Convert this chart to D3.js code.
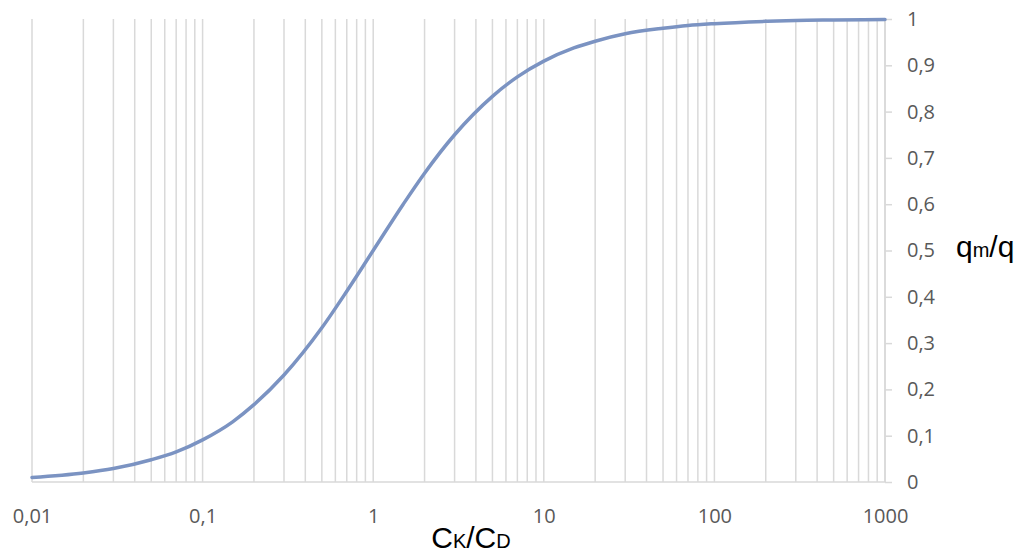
<!DOCTYPE html>
<html>
<head>
<meta charset="utf-8">
<script src="https://cdn.jsdelivr.net/npm/d3@7"></script>
<style>
  html, body { margin: 0; padding: 0; background: #fff; }
  svg { display: block; }
</style>
</head>
<body>
<svg id="chart" width="1024" height="554"></svg>
<script>
// Data
const xValues = [0.01, 0.02, 0.03, 0.05, 0.07, 0.1, 0.15, 0.2, 0.3, 0.5, 0.7, 1, 1.5, 2, 3, 5, 7, 10, 15, 20, 30, 50, 70, 100, 200, 300, 500, 1000];
const yValues = [0.0099, 0.0196, 0.029, 0.048, 0.065, 0.091, 0.13, 0.167, 0.231, 0.333, 0.412, 0.5, 0.6, 0.667, 0.75, 0.833, 0.875, 0.909, 0.9375, 0.952, 0.968, 0.980, 0.986, 0.990, 0.995, 0.997, 0.998, 0.999];
const xTickValues = [0.01, 0.1, 1, 10, 100, 1000];
const xTickLabels = ["0,01", "0,1", "1", "10", "100", "1000"];
const yTickValues = [0, 0.1, 0.2, 0.3, 0.4, 0.5, 0.6, 0.7, 0.8, 0.9, 1];
const yTickLabels = ["0", "0,1", "0,2", "0,3", "0,4", "0,5", "0,6", "0,7", "0,8", "0,9", "1"];

(function () {
const svg = d3.select("#chart");
const mLeft = 32, mRight = 885, mTop = 19, mBottom = 482;

const x = d3.scaleLog().domain([0.01, 1000]).range([mLeft, mRight]);
const y = d3.scaleLinear().domain([0, 1]).range([mBottom, mTop]);

const grid = "#d9d9d9";
const tickFont = "'Open Sans', 'Noto Sans', sans-serif";

// vertical grid lines at every log tick
const gridTicks = x.ticks();

svg.append("g")
  .selectAll("line")
  .data(gridTicks)
  .join("line")
  .attr("x1", d => x(d)).attr("x2", d => x(d))
  .attr("y1", mTop).attr("y2", mBottom)
  .attr("stroke", grid).attr("stroke-width", 1.5);

// bottom axis line
svg.append("line")
  .attr("x1", mLeft).attr("x2", mRight + 0.75)
  .attr("y1", mBottom).attr("y2", mBottom)
  .attr("stroke", grid).attr("stroke-width", 1.5);

// right axis
const yAxis = d3.axisRight(y)
  .tickValues(yTickValues)
  .tickFormat((d, i) => yTickLabels[i])
  .tickSize(7)
  .tickPadding(15);
const gy = svg.append("g").attr("transform", `translate(${mRight},0)`).call(yAxis);
gy.select(".domain").remove();
gy.append("line").attr("x1", 0).attr("x2", 0).attr("y1", mTop).attr("y2", mBottom)
  .attr("stroke", grid).attr("stroke-width", 1.5);
gy.selectAll(".tick line").attr("stroke", grid).attr("stroke-width", 1.5);
gy.selectAll(".tick text")
  .attr("fill", "#595959")
  .style("font-family", tickFont)
  .style("font-size", "20px");

// bottom tick labels
const xAxis = d3.axisBottom(x)
  .tickValues(xTickValues)
  .tickFormat((d, i) => xTickLabels[i])
  .tickSize(0)
  .tickPadding(27);
const gx = svg.append("g").attr("transform", `translate(0,${mBottom})`).call(xAxis);
gx.select(".domain").remove();
gx.selectAll(".tick text")
  .attr("fill", "#595959")
  .style("font-family", tickFont)
  .style("font-size", "20px");

// curve
const line = d3.line()
  .x((d, i) => x(xValues[i]))
  .y((d, i) => y(yValues[i]))
  .curve(d3.curveMonotoneX);
svg.append("path")
  .datum(yValues)
  .attr("d", line)
  .attr("fill", "none")
  .attr("stroke", "#7b93c2")
  .attr("stroke-width", 3.5)
  .attr("stroke-linecap", "round");

// axis titles
const xt = svg.append("text")
  .attr("x", 471).attr("y", 548)
  .attr("text-anchor", "middle")
  .style("font-family", "'Liberation Sans', Arial, sans-serif")
  .style("font-size", "30px")
  .attr("fill", "#000");
xt.append("tspan").text("C");
xt.append("tspan").text("K").style("font-size", "20px");
xt.append("tspan").text("/C");
xt.append("tspan").text("D").style("font-size", "20px");

const yt = svg.append("text")
  .attr("x", 956).attr("y", 257)
  .style("font-family", "'Liberation Sans', Arial, sans-serif")
  .style("font-size", "30px")
  .attr("fill", "#000");
yt.append("tspan").text("q");
yt.append("tspan").text("m").style("font-size", "20px");
yt.append("tspan").text("/q");
})();
</script>
</body>
</html>
